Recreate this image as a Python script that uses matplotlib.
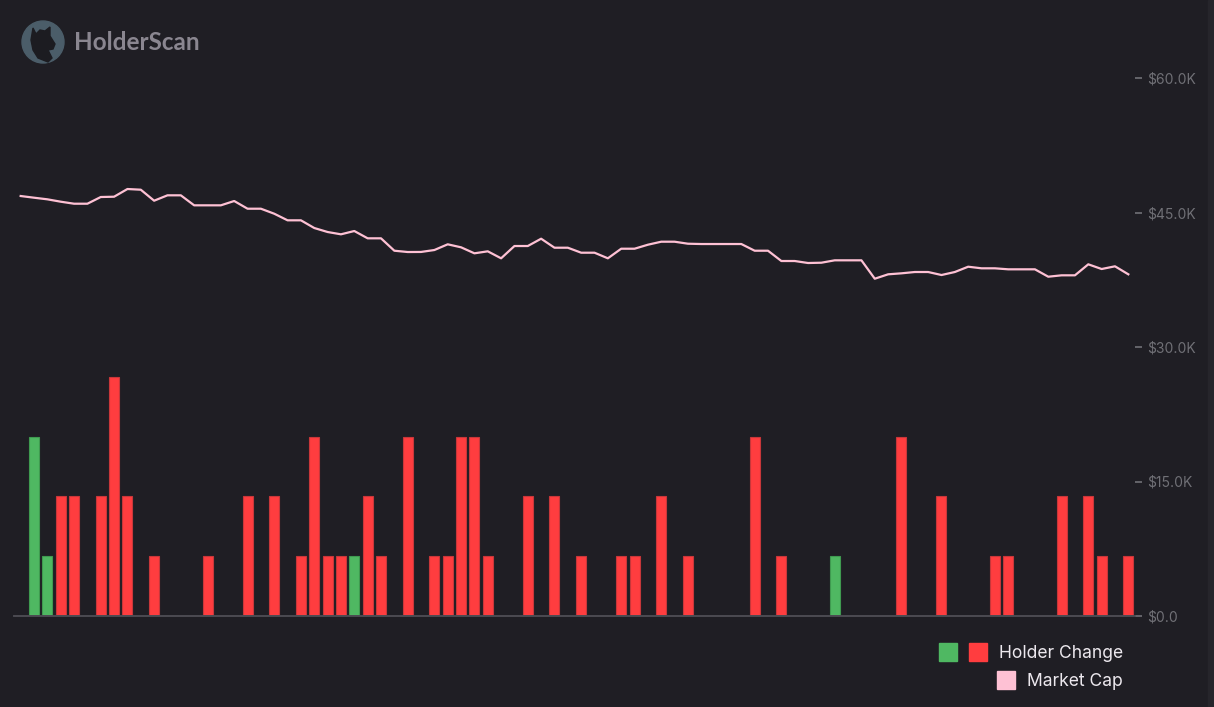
import matplotlib
matplotlib.use("Agg")
import matplotlib.pyplot as plt
from matplotlib.patches import Rectangle, Circle, Polygon
from matplotlib.transforms import IdentityTransform
from matplotlib.ticker import FuncFormatter

# ---- data ----
market_cap = [46838, 46650, 46470, 46205, 45980, 45980, 46727, 46760, 47619, 47542,
              46315, 46916, 46916, 45800, 45800, 45800, 46281, 45423, 45423, 44865,
              44128, 44128, 43270, 42824, 42567, 42935, 42121, 42121, 40738, 40593,
              40600, 40816, 41452, 41117, 40448, 40671, 39891, 41262, 41262, 42077,
              41073, 41073, 40516, 40516, 39891, 40961, 40961, 41407, 41742, 41742,
              41519, 41485, 41485, 41485, 41485, 40738, 40738, 39590, 39590, 39367,
              39400, 39667, 39667, 39667, 37616, 38106, 38217, 38363, 38363, 38028,
              38363, 38954, 38776, 38776, 38664, 38664, 38664, 37839, 37994, 37994,
              39222, 38697, 38999, 38106]
# holder change per period (index -> signed change); zero elsewhere
change_index = [1, 2, 3, 4, 6, 7, 8, 10, 14, 17, 19, 21, 22, 23, 24, 25, 26, 27, 29,
                31, 32, 33, 34, 35, 38, 40, 42, 45, 46, 48, 50, 55, 57,
                61, 66, 69, 73, 74, 78, 80, 81, 83]
change_value = [3, 1, -2, -2, -2, -4, -2, -1, -1, -2, -2, -1, -3, -1, -1, 1, -2, -1, -3,
                -1, -1, -3, -3, -1, -2, -2, -1, -1, -1, -2, -1, -3, -1,
                1, -3, -2, -1, -1, -2, -2, -1, -1]
price_ticks = [0, 15000, 30000, 45000, 60000]

BG = "#1f1e24"
RED = "#ff3d3f"
GREEN = "#4fb862"
PINK = "#fec1d4"
TICK = "#707076"

W, H = 1214, 707
fig = plt.figure(figsize=(W / 100, H / 100), dpi=100, facecolor=BG)

def fx(px):
    return px / W

def fy(py):
    return 1 - py / H

ax_left, ax_right, ax_top, ax_bot = 14, 1135, 20, 616
ax = fig.add_axes([fx(ax_left), fy(ax_bot), fx(ax_right - ax_left), (ax_bot - ax_top) / H])
ax.set_facecolor(BG)
ax2 = ax.twinx()

# bars
colors = [GREEN if v > 0 else RED for v in change_value]
edges = ["#3f9a50" if v > 0 else "#c8373a" for v in change_value]
ax.bar(change_index, [abs(v) for v in change_value], width=0.75, color=colors,
       edgecolor=edges, linewidth=0.8, zorder=2)
ax.set_ylim(0, (ax_bot - ax_top) / 59.8)
ax.set_xlim(-0.5, 83.5)
ax.set_yticks([])
ax.set_xticks([])

# line
ax2.plot(range(len(market_cap)), market_cap, color=PINK, linewidth=1.6, zorder=3)
ax2.set_ylim(0, (ax_bot - ax_top) / 134.5 * 15000)
ax2.set_yticks(price_ticks)

def fmt(v, pos):
    if v == 0:
        return "$0.0"
    return "${:.1f}K".format(v / 1000)

ax2.yaxis.set_major_formatter(FuncFormatter(fmt))
ax2.tick_params(axis="y", colors=TICK, labelcolor=TICK, length=5, width=1.2, pad=4,
                labelsize=10)
for t in ax2.get_yticklabels():
    t.set_fontfamily(["Inter", "DejaVu Sans"])

for a in (ax, ax2):
    for s in ("top", "left", "right"):
        a.spines[s].set_visible(False)
    a.spines["bottom"].set_color("#4c4b52")
    a.spines["bottom"].set_linewidth(1.2)

# right strip
fig.add_artist(Rectangle((fx(1208), 0), fx(6), 1, transform=fig.transFigure,
                         color="#26252b", zorder=0))

# logo (pixel coordinates, origin bottom-left)
idt = IdentityTransform()
fig.add_artist(Circle((43, H - 42), 21, transform=idt, color="#4b5d69", zorder=5))
cat = [(33, H - 28), (36, H - 34), (40, H - 30), (45, H - 31), (50, H - 27),
       (50, H - 36), (55, H - 44), (53, H - 49), (48, H - 50), (52, H - 58),
       (48, H - 62), (38, H - 58), (33, H - 50), (31, H - 40)]
fig.add_artist(Polygon(cat, closed=True, transform=idt, color="#1c1c21", zorder=6))
fig.text(fx(74), fy(43), "HolderScan", color="#8a8690", fontsize=17.5, fontweight="bold",
         family=["Lato", "DejaVu Sans"], va="center", ha="left")

# legend
def sq(x, y, c):
    fig.add_artist(Rectangle((fx(x), fy(y + 18)), fx(18), 18 / H, transform=fig.transFigure,
                             color=c, zorder=5))

sq(939, 643, GREEN)
sq(969, 643, RED)
sq(997, 671, PINK)
fig.text(fx(999), fy(654), "Holder Change", color="#ece8ee", fontsize=12.6,
         family=["Inter", "DejaVu Sans"], va="center", ha="left")
fig.text(fx(1027), fy(682), "Market Cap", color="#ece8ee", fontsize=12.6,
         family=["Inter", "DejaVu Sans"], va="center", ha="left")

fig.savefig("out.png", dpi=100, facecolor=BG)
